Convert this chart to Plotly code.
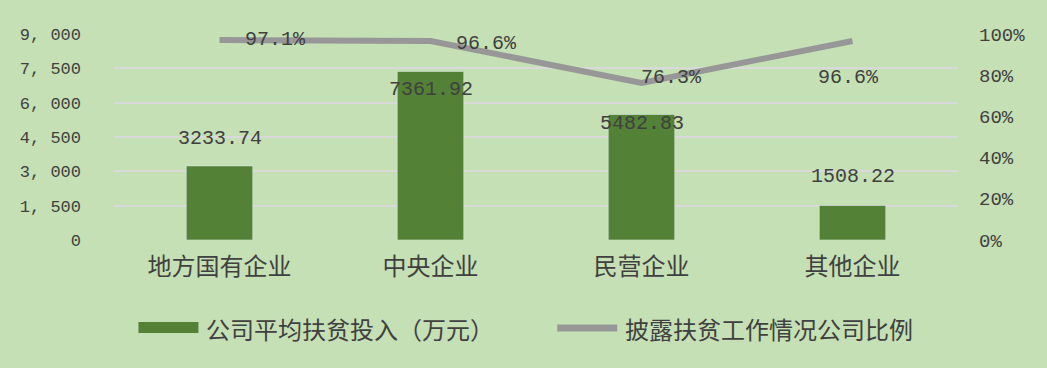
import plotly.graph_objects as go

categories = ["地方国有企业", "中央企业", "民营企业", "其他企业"]
investment = [3233.74, 7361.92, 5482.83, 1508.22]
ratio = [0.971, 0.966, 0.763, 0.966]
left_ticks = [0, 1500, 3000, 4500, 6000, 7500, 9000]
left_tick_text = ["0", "1, 500", "3, 000", "4, 500", "6, 000", "7, 500", "9, 000"]
right_ticks = [0, 0.2, 0.4, 0.6, 0.8, 1.0]
right_tick_text = ["0%", "20%", "40%", "60%", "80%", "100%"]
bar_name = "公司平均扶贫投入（万元）"
line_name = "披露扶贫工作情况公司比例"

# label placement offsets (pixels)
bar_label_shift = [27, -18, -9, 29]
line_label_shift = [(56, 0), (56, -2), (30, 5), (-4, -36)]

W, H = 1047, 368
L, R, T, B = 113.5, 89, 34, 128
pw, ph = W - L - R, H - T - B

BG = "#c5e0b4"
BAR = "#538135"
LINE = "#979797"
TXT = "#404040"
MONO = "Liberation Mono"
CJK = "Noto Sans CJK SC"


def px(x):
    return (x - L) / pw


def py(y):
    return (H - B - y) / ph


fig = go.Figure()
fig.add_trace(go.Bar(x=categories, y=investment, marker_color=BAR, width=0.315,
                     name=bar_name, showlegend=False))
fig.add_trace(go.Scatter(x=categories, y=ratio, yaxis="y2", mode="lines",
                         line=dict(color=LINE, width=6), name=line_name,
                         showlegend=False))

annotations = []
for c, v, s in zip(categories, investment, bar_label_shift):
    annotations.append(dict(x=c, y=v, xref="x", yref="y", text=f"{v:.2f}",
                            showarrow=False, yshift=s,
                            font=dict(family=MONO, size=20, color=TXT)))
for c, v, (dx, dy) in zip(categories, ratio, line_label_shift):
    annotations.append(dict(x=c, y=v, xref="x", yref="y2", text=f"{v*100:.1f}%",
                            showarrow=False, xshift=dx, yshift=dy,
                            font=dict(family=MONO, size=20, color=TXT)))

# manual legend
annotations.append(dict(x=px(204), y=py(328), xref="paper", yref="paper",
                        text=bar_name, showarrow=False, xanchor="left",
                        yanchor="middle",
                        font=dict(family=CJK, size=24, color=TXT)))
annotations.append(dict(x=px(623), y=py(328), xref="paper", yref="paper",
                        text=line_name, showarrow=False, xanchor="left",
                        yanchor="middle",
                        font=dict(family=CJK, size=24, color=TXT)))
shapes = [
    dict(type="rect", xref="paper", yref="paper", x0=px(138), x1=px(198),
         y0=py(333), y1=py(322), fillcolor=BAR, line=dict(width=0)),
    dict(type="line", xref="paper", yref="paper", x0=px(557), x1=px(617),
         y0=py(328), y1=py(328), line=dict(color=LINE, width=7)),
]

fig.update_layout(
    width=W, height=H,
    margin=dict(l=L, r=R, t=T, b=B, pad=0),
    paper_bgcolor=BG, plot_bgcolor=BG,
    showlegend=False,
    bargap=0.685,
    xaxis=dict(showgrid=False, showline=False, zeroline=False, ticks="",
               tickfont=dict(family=CJK, size=24, color=TXT),
               ticklabelstandoff=10),
    yaxis=dict(range=[0, 9000], tickvals=left_ticks, ticktext=left_tick_text,
               showgrid=True, gridcolor="#d9d9d9", gridwidth=2,
               zeroline=False, showline=False, ticks="",
               tickfont=dict(family=MONO, size=17, color=TXT),
               ticklabelstandoff=32),
    yaxis2=dict(range=[0, 1], overlaying="y", side="right",
                tickvals=right_ticks, ticktext=right_tick_text,
                showgrid=False, zeroline=False, showline=False, ticks="",
                tickfont=dict(family=MONO, size=19, color=TXT),
                ticklabelstandoff=20),
    annotations=annotations,
    shapes=shapes,
)

fig.write_html("out.html")
